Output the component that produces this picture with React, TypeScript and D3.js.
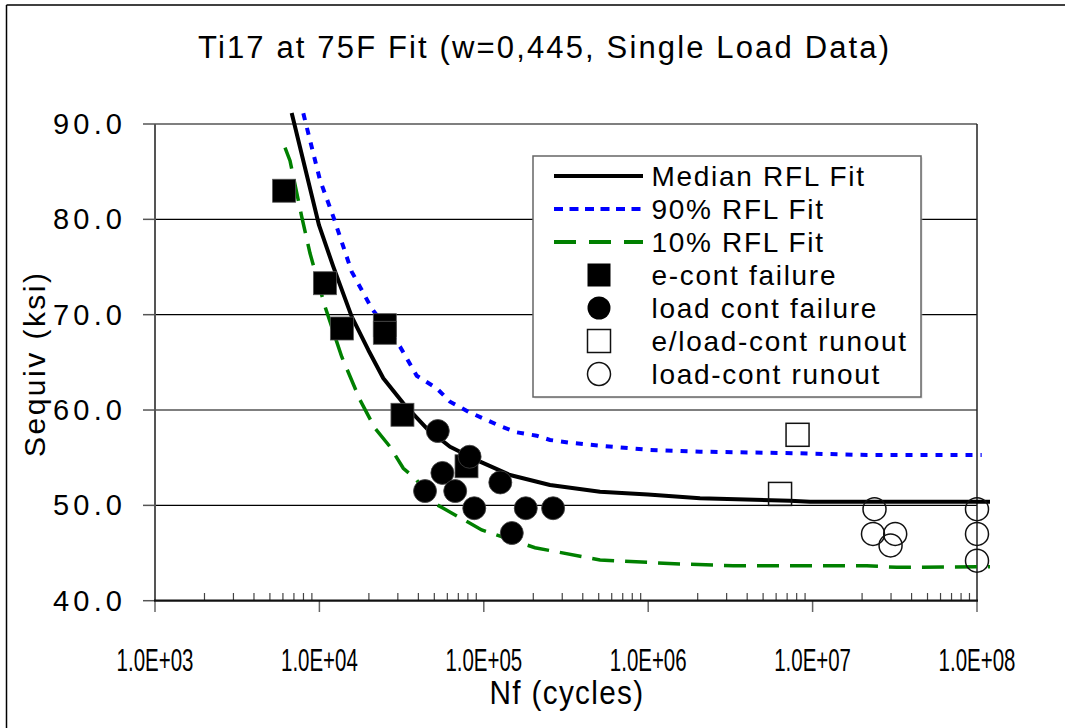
import React from 'react';
import * as d3 from 'd3';

const W = 1065;
const H = 728;

const xTickValues = [1e3, 1e4, 1e5, 1e6, 1e7, 1e8];
const xTickLabels = ['1.0E+03', '1.0E+04', '1.0E+05', '1.0E+06', '1.0E+07', '1.0E+08'];
const yTickValues = [40, 50, 60, 70, 80, 90];
const yTickLabels = ['40.0', '50.0', '60.0', '70.0', '80.0', '90.0'];

// Median RFL Fit [Nf, Sequiv]
const medianN = [6783, 9945, 12150, 15723, 19830, 24470, 32380, 44950, 62290, 94820, 144300, 252700, 509200, 997000, 2.066e6, 7.288e6, 9.64e6, 1.2e8];
const medianS = [91.15, 79.39, 75.03, 69.79, 66.3, 63.33, 60.7, 58.08, 56.15, 54.58, 53.18, 52.14, 51.43, 51.14, 50.74, 50.49, 50.38, 50.38];

// 90% RFL Fit
const p90N = [7982, 10080, 12150, 15720, 20800, 30930, 39070, 51690, 62290, 80480, 101700, 128500, 158600, 209800, 252700, 334400, 509200, 1.025e6, 2.066e6, 8.38e6, 2.134e7, 1.068e8];
const p90S = [91.12, 84.13, 80.28, 74.51, 70.67, 66.64, 63.6, 62.28, 60.87, 59.82, 59.03, 58.25, 57.66, 57.31, 56.86, 56.57, 56.26, 55.81, 55.63, 55.46, 55.28, 55.28];

// 10% RFL Fit
const p10N = [6178, 6625, 7805, 8767, 10820, 13670, 17660, 21790, 26880, 32380, 39070, 48210, 56700, 80480, 97100, 204800, 509200, 1.561e6, 3.294e6, 2.134e7, 3.248e7, 1.2e8];
const p10S = [87.51, 86.15, 80.28, 76.44, 70.84, 65.59, 61.05, 58.08, 56.15, 53.89, 52.66, 50.38, 49.69, 48.22, 47.42, 45.56, 44.27, 43.85, 43.67, 43.67, 43.5, 43.57];

// e-cont failure (filled squares)
const eContN = [6100, 10800, 13700, 25000, 25000, 32000, 78500];
const eContS = [83.0, 73.3, 68.55, 68.9, 68.1, 59.5, 54.1];

// load cont failure (filled circles)
const loadFailN = [52500, 56000, 43900, 67000, 87500, 126000, 180000, 264000, 148000, 82000];
const loadFailS = [57.8, 53.4, 51.5, 51.5, 49.7, 52.4, 49.7, 49.7, 47.1, 55.1];

// e/load-cont runout (open squares)
const eLoadRunN = [6.34e6, 8.1e6];
const eLoadRunS = [51.2, 57.4];

// load-cont runout (open circles)
const loadRunN = [2.38e7, 2.33e7, 3.18e7, 2.98e7, 1e8, 1e8, 1e8];
const loadRunS = [49.6, 47.0, 47.0, 45.8, 49.6, 47.0, 44.2];

const legendLabels = ['Median RFL Fit', '90% RFL Fit', '10% RFL Fit', 'e-cont failure', 'load cont failure', 'e/load-cont runout', 'load-cont runout'];

const FONT = '"Liberation Sans", Arial, sans-serif';

function zip(a: number[], b: number[]): [number, number][] {
  return a.map((v, i) => [v, b[i]]);
}

export default function App() {
  const x = d3.scaleLog().domain([1e3, 1e8]).range([155, 977]);
  const y = d3.scaleLinear().domain([40, 90]).range([600.7, 124]);
  const line = d3
    .line<[number, number]>()
    .x((d) => x(d[0]))
    .y((d) => y(d[1]));

  const minor: number[] = [];
  for (let e = 3; e < 8; e++) {
    for (let m = 2; m <= 9; m++) minor.push(m * Math.pow(10, e));
  }

  const sq = 23;
  const r = 11.5;
  const legX = 533;
  const legY = 156;
  const rowY = (i: number) => 176 + i * 33;

  return (
    <svg
      width={W}
      height={H}
      style={{ position: 'absolute', left: 0, top: 0, background: '#fff' }}
      fontFamily={FONT}
    >
      <rect x={0} y={0} width={W} height={H} fill="#fff" />
      {/* outer chart border */}
      <line x1={6.5} y1={5} x2={W} y2={5} stroke="#000" strokeWidth={1.5} />
      <line x1={6.5} y1={5} x2={6.5} y2={H} stroke="#000" strokeWidth={1.5} />

      {/* title */}
      <text x={543.5} y={58} textAnchor="middle" fontSize={31} textLength={691} lengthAdjust="spacing" fill="#000">
        Ti17 at 75F Fit (w=0,445, Single Load Data)
      </text>

      {/* gridlines */}
      {yTickValues.slice(1).map((v) => (
        <line key={'g' + v} x1={155} x2={977} y1={y(v)} y2={y(v)} stroke="#000" strokeWidth={1.2} />
      ))}
      {/* right border */}
      <line x1={977} x2={977} y1={124} y2={600.7} stroke="#222" strokeWidth={1.5} />

      {/* y axis */}
      <line x1={155} x2={155} y1={124} y2={601} stroke="#555" strokeWidth={2} />
      {yTickValues.map((v, i) => (
        <g key={'yt' + v}>
          <line x1={143} x2={155} y1={y(v)} y2={y(v)} stroke="#555" strokeWidth={1.5} />
          <text x={122} y={y(v) + 10} textAnchor="end" fontSize={29} textLength={69} lengthAdjust="spacing">
            {yTickLabels[i]}
          </text>
        </g>
      ))}

      {/* x axis */}
      {minor.map((v) => (
        <line key={'mt' + v} x1={x(v)} x2={x(v)} y1={593} y2={600} stroke="#444" strokeWidth={1.2} />
      ))}
      {xTickValues.map((v, i) => (
        <g key={'xt' + v}>
          <line x1={x(v)} x2={x(v)} y1={600} y2={612} stroke="#666" strokeWidth={1.5} />
          <text transform={`translate(${x(v)},671) scale(0.66,1)`} textAnchor="middle" fontSize={31}>
            {xTickLabels[i]}
          </text>
        </g>
      ))}
      <line x1={154} x2={978} y1={600.7} y2={600.7} stroke="#111" strokeWidth={2.2} />

      {/* axis titles */}
      <text transform="translate(567,704) scale(0.9,1)" textAnchor="middle" fontSize={33} letterSpacing={1.5}>
        Nf (cycles)
      </text>
      <text transform="translate(45,365) rotate(-90)" textAnchor="middle" fontSize={30} textLength={184} lengthAdjust="spacing">
        Sequiv (ksi)
      </text>

      {/* fit lines */}
      <path d={line(zip(p10N, p10S)) || ''} fill="none" stroke="#008000" strokeWidth={3.5} strokeDasharray="22,11" />
      <path d={line(zip(p90N, p90S)) || ''} fill="none" stroke="#0000ff" strokeWidth={4} strokeDasharray="7,8" />
      <path d={line(zip(medianN, medianS)) || ''} fill="none" stroke="#000" strokeWidth={4} strokeLinejoin="round" />

      {/* markers */}
      {eContN.map((n, i) => (
        <rect key={'ec' + i} x={x(n) - sq / 2} y={y(eContS[i]) - sq / 2} width={sq} height={sq} fill="#000" stroke="#555" strokeWidth={0.8} />
      ))}
      {loadFailN.map((n, i) => (
        <circle key={'lf' + i} cx={x(n)} cy={y(loadFailS[i])} r={r} fill="#000" stroke="#444" strokeWidth={0.8} />
      ))}
      {eLoadRunN.map((n, i) => (
        <rect key={'er' + i} x={x(n) - sq / 2} y={y(eLoadRunS[i]) - sq / 2} width={sq} height={sq} fill="none" stroke="#111" strokeWidth={1.5} />
      ))}
      {loadRunN.map((n, i) => (
        <circle key={'lr' + i} cx={x(n)} cy={y(loadRunS[i])} r={r} fill="none" stroke="#111" strokeWidth={1.5} />
      ))}

      {/* legend */}
      <rect x={legX + 1.5} y={legY + 1.5} width={388} height={241} fill="#bbb" opacity={0.5} />
      <rect x={legX} y={legY} width={388} height={241} fill="#fff" stroke="#666" strokeWidth={1.5} />
      <line x1={554} x2={643} y1={rowY(0)} y2={rowY(0)} stroke="#000" strokeWidth={4} />
      <line x1={554} x2={643} y1={rowY(1)} y2={rowY(1)} stroke="#0000ff" strokeWidth={4} strokeDasharray="9,6.5" />
      <line x1={554} x2={643} y1={rowY(2)} y2={rowY(2)} stroke="#008000" strokeWidth={4} strokeDasharray="22,13" />
      <rect x={599 - sq / 2} y={rowY(3) - sq / 2} width={sq} height={sq} fill="#000" />
      <circle cx={599} cy={rowY(4)} r={r} fill="#000" />
      <rect x={599 - sq / 2} y={rowY(5) - sq / 2} width={sq} height={sq} fill="none" stroke="#111" strokeWidth={1.5} />
      <circle cx={599} cy={rowY(6)} r={r} fill="none" stroke="#111" strokeWidth={1.5} />
      {legendLabels.map((t, i) => (
        <text key={'lt' + i} x={651.5} y={rowY(i) + 10} fontSize={28} letterSpacing={1.7}>
          {t}
        </text>
      ))}
    </svg>
  );
}
